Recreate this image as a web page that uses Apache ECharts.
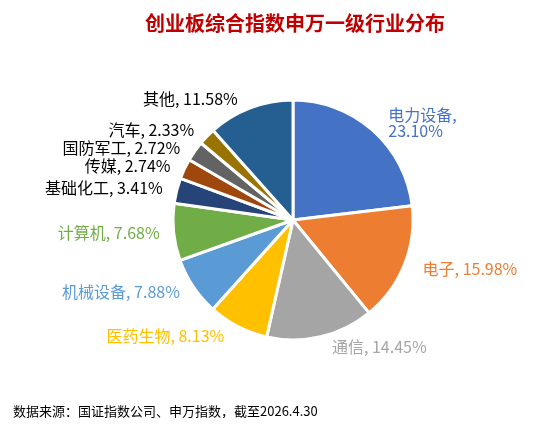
<!DOCTYPE html>
<html><head><meta charset="utf-8">
<script src="https://cdn.jsdelivr.net/npm/echarts@6/dist/echarts.min.js"></script>
<style>html,body{margin:0;padding:0;background:#fff}#c{width:550px;height:428px}</style>
</head><body><div id="c"></div>
<script>
var categories=['电力设备','电子','通信','医药生物','机械设备','计算机','基础化工','传媒','国防军工','汽车','其他'];
var values=[23.10,15.98,14.45,8.13,7.88,7.68,3.41,2.74,2.72,2.33,11.58];
var colors=['#4472C4','#ED7D31','#A5A5A5','#FFC000','#5B9BD5','#70AD47','#264478','#9E480E','#636363','#997300','#255E91'];
var labelColors=['#4472C4','#ED7D31','#A5A5A5','#FFC000','#5B9BD5','#70AD47','#000','#000','#000','#000','#000'];
var chart=echarts.init(document.getElementById('c'));
chart.setOption({
  animation:false,
  title:[{text:'创业板综合指数申万一级行业分布',left:290,textAlign:'center',top:8,textStyle:{color:'#C00000',fontSize:20,fontWeight:'bold',fontFamily:'Noto Sans CJK SC'}},
         {text:'数据来源：国证指数公司、申万指数，截至2026.4.30',left:8,top:400,textStyle:{color:'#000',fontSize:13,fontWeight:'normal',fontFamily:'Noto Sans CJK SC'}}],
  series:[{type:'pie',center:[293,220],radius:[0,120],startAngle:90,clockwise:true,
    itemStyle:{borderColor:'#fff',borderWidth:3},
    label:{show:true,position:'outside',distance:12,fontSize:16,fontFamily:'Noto Sans CJK SC',
      formatter:function(p){return p.name==='电力设备'?p.name+',\n'+p.value.toFixed(2)+'%':p.name+', '+p.value.toFixed(2)+'%';}},
    labelLine:{show:false,length:10,length2:4},
    data:categories.map(function(n,i){return {name:n,value:values[i],itemStyle:{color:colors[i]},label:{color:labelColors[i]}};})
  }]
});
</script></body></html>
